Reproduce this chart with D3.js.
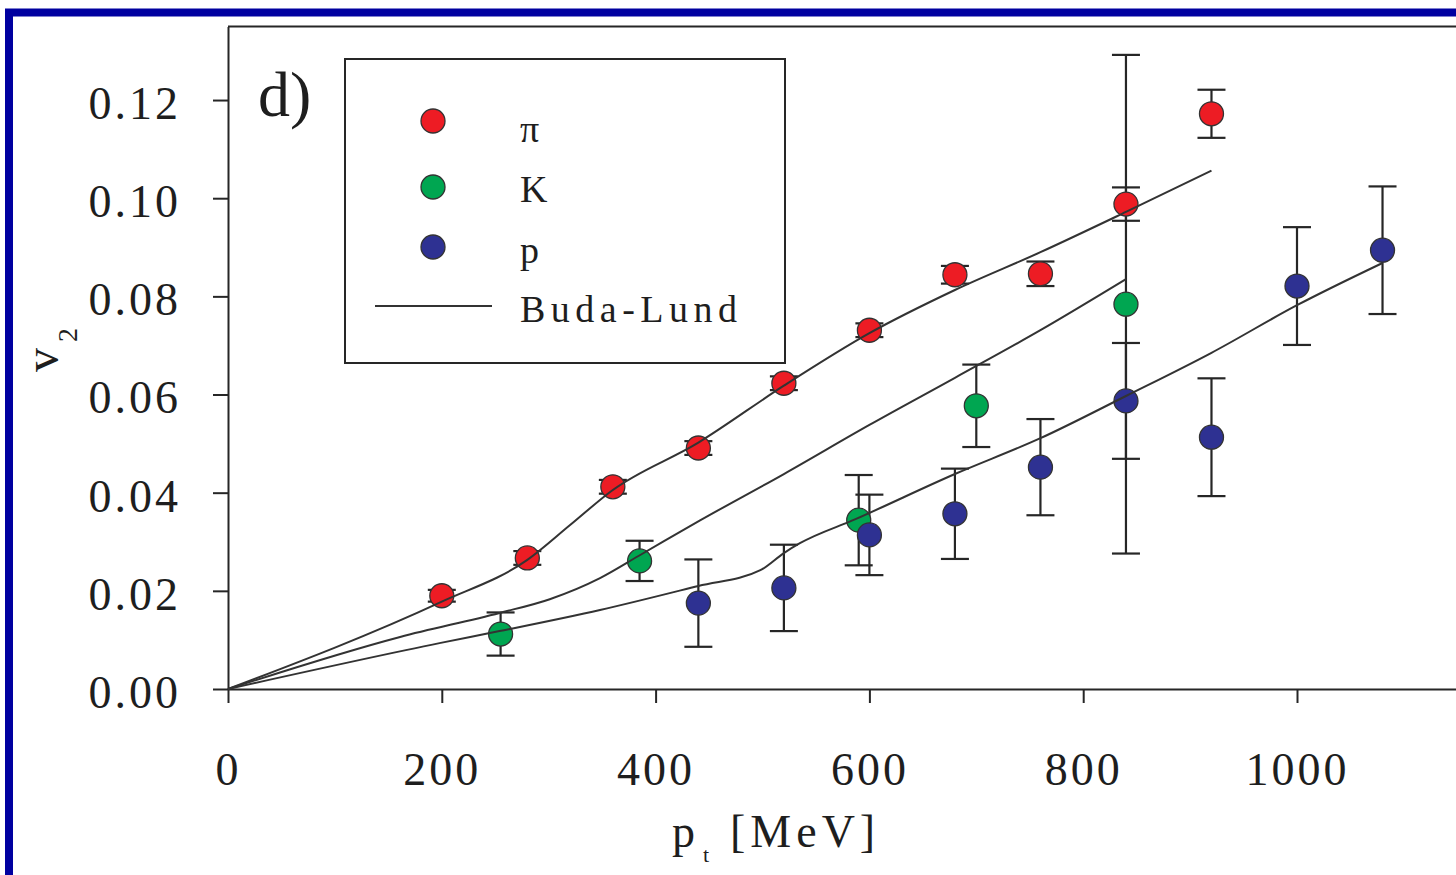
<!DOCTYPE html>
<html>
<head>
<meta charset="utf-8">
<script src="https://cdn.jsdelivr.net/npm/d3@7"></script>
<style>
  body { margin: 0; background: #fff; }
  svg { display: block; }
</style>
</head>
<body>
<div id="chart"></div>
<script>
// pions
const ptPion = [200, 280, 360, 440, 520, 600, 680, 760, 840, 920];
const v2Pion = [0.0190, 0.0267, 0.0412, 0.0491, 0.0623, 0.0731, 0.0844, 0.0846, 0.0988, 0.1172];
const errPion = [0.0012, 0.0014, 0.0014, 0.0014, 0.0014, 0.0014, 0.0018, 0.0025, 0.0034, 0.0049];

// kaons
const ptKaon = [255, 385, 590, 700, 840];
const v2Kaon = [0.0112, 0.0261, 0.0344, 0.0577, 0.0784];
const errKaon = [0.0044, 0.0041, 0.0092, 0.0084, 0.0508];

// protons
const ptProton = [440, 520, 600, 680, 760, 840, 920, 1000, 1080];
const v2Proton = [0.0175, 0.0206, 0.0314, 0.0357, 0.0452, 0.0587, 0.0513, 0.0821, 0.0894];
const errProton = [0.0089, 0.0088, 0.0082, 0.0092, 0.0098, 0.0118, 0.0120, 0.0120, 0.0130];

// Buda-Lund curves
const fitPionPt = [0, 199, 280, 320, 359, 440, 520, 600, 680, 760, 840, 920];
const fitPionV2 = [0, 0.0177, 0.0263, 0.0334, 0.0404, 0.0502, 0.0618, 0.0725, 0.0813, 0.0890, 0.0972, 0.1056];
const fitKaonPt = [0, 161, 254, 301, 348, 384, 442, 520, 600, 680, 760, 840];
const fitKaonV2 = [0, 0.0106, 0.0155, 0.0183, 0.0226, 0.0271, 0.0344, 0.0438, 0.0538, 0.0634, 0.0731, 0.0835];
const fitProtonPt = [0, 199, 254, 348, 440, 498, 520, 535, 587, 680, 760, 840, 920, 1000, 1080];
const fitProtonV2 = [0, 0.0094, 0.0118, 0.0161, 0.0210, 0.0242, 0.0277, 0.0297, 0.0346, 0.0438, 0.0511, 0.0597, 0.0685, 0.0782, 0.0868];

const xTicks = [0, 200, 400, 600, 800, 1000];
const yTicks = [0, 0.02, 0.04, 0.06, 0.08, 0.10, 0.12];
const legendLabels = ["π", "K", "p", "Buda-Lund"];
const colors = ["#ed1c24", "#00a651", "#2e3192"];

const W = 1456, H = 875;
const serif = "'Liberation Serif', 'DejaVu Serif', serif";
const ink = "#262626";

const svg = d3.select("#chart").append("svg")
    .attr("width", W)
    .attr("height", H);

// blue frame of the slide
svg.append("rect")
    .attr("x", 9).attr("y", 12.5)
    .attr("width", W + 40).attr("height", H + 40)
    .attr("fill", "none")
    .attr("stroke", "#0000a0")
    .attr("stroke-width", 8);

const x = d3.scaleLinear().domain([0, 1200]).range([228, 228 + 1200 * 1.069]);
const y = d3.scaleLinear().domain([0, 0.135]).range([689, 689 - 0.135 * 4908]);

// top frame line
svg.append("line")
    .attr("x1", x(0)).attr("x2", x(1200))
    .attr("y1", y(0.135)).attr("y2", y(0.135))
    .attr("stroke", ink).attr("stroke-width", 2);

const yAxis = d3.axisLeft(y)
    .tickValues(yTicks)
    .tickFormat(d3.format(".2f"))
    .tickSize(15)
    .tickSizeOuter(0)
    .tickPadding(32);

const gy = svg.append("g")
    .attr("transform", `translate(${x(0)},0)`)
    .call(yAxis);

const xAxis = d3.axisBottom(x)
    .tickValues(xTicks)
    .tickFormat(d3.format("d"))
    .tickSize(14)
    .tickSizeOuter(0)
    .tickPadding(49);

const gx = svg.append("g")
    .attr("transform", `translate(0,${y(0)})`)
    .call(xAxis);

[gx, gy].forEach(g => {
  g.select(".domain").attr("stroke", ink).attr("stroke-width", 2);
  g.selectAll(".tick line").attr("stroke", ink).attr("stroke-width", 2);
  g.selectAll(".tick text")
      .attr("font-family", serif)
      .attr("font-size", 46)
      .attr("letter-spacing", 3)
      .attr("fill", "#1e1e1e");
});
gy.selectAll(".tick text").attr("dy", "0.4em");

// axis titles
const xt = svg.append("text")
    .attr("x", 672).attr("y", 847)
    .attr("font-family", serif)
    .attr("font-size", 46)
    .attr("fill", "#1e1e1e");
xt.append("tspan").text("p");
xt.append("tspan").attr("x", 703).attr("y", 862).attr("font-size", 22).text("t");
xt.append("tspan").attr("x", 730).attr("y", 847).attr("letter-spacing", 5).text("[MeV]");

const yt = svg.append("text")
    .attr("transform", "translate(58,372) rotate(-90)")
    .attr("font-family", serif)
    .attr("font-size", 48)
    .attr("fill", "#1e1e1e");
yt.append("tspan").text("v");
yt.append("tspan").attr("dx", 6).attr("dy", 19).attr("font-size", 28).text("2");

// panel tag
svg.append("text")
    .attr("x", 258).attr("y", 116)
    .attr("font-family", serif)
    .attr("font-size", 64)
    .attr("fill", "#1e1e1e")
    .text("d)");

// data series
const series = [
  {pt: ptKaon, v2: v2Kaon, err: errKaon, color: colors[1]},
  {pt: ptPion, v2: v2Pion, err: errPion, color: colors[0]},
  {pt: ptProton, v2: v2Proton, err: errProton, color: colors[2]}
];

const capHalf = 14;
const gErr = svg.append("g").attr("stroke", ink).attr("stroke-width", 2.2);
series.forEach(s => {
  s.pt.forEach((p, i) => {
    const cx = x(p), lo = y(s.v2[i] - s.err[i]), hi = y(s.v2[i] + s.err[i]);
    gErr.append("line").attr("x1", cx).attr("x2", cx).attr("y1", lo).attr("y2", hi);
    gErr.append("line").attr("x1", cx - capHalf).attr("x2", cx + capHalf).attr("y1", lo).attr("y2", lo);
    gErr.append("line").attr("x1", cx - capHalf).attr("x2", cx + capHalf).attr("y1", hi).attr("y2", hi);
  });
});

series.forEach(s => {
  svg.append("g").selectAll("circle")
      .data(s.pt.map((p, i) => [p, s.v2[i]]))
      .join("circle")
      .attr("cx", d => x(d[0]))
      .attr("cy", d => y(d[1]))
      .attr("r", 12)
      .attr("fill", s.color)
      .attr("stroke", "#333")
      .attr("stroke-width", 1.3);
});

// Buda-Lund curves
const line = d3.line()
    .x(d => x(d[0]))
    .y(d => y(d[1]))
    .curve(d3.curveMonotoneX);

[[fitPionPt, fitPionV2], [fitKaonPt, fitKaonV2], [fitProtonPt, fitProtonV2]].forEach(([pts, vals]) => {
  svg.append("path")
      .datum(pts.map((p, i) => [p, vals[i]]))
      .attr("fill", "none")
      .attr("stroke", "#333")
      .attr("stroke-width", 2)
      .attr("d", line);
});

// legend
const lg = svg.append("g");
lg.append("rect")
    .attr("x", 345).attr("y", 59)
    .attr("width", 440).attr("height", 304)
    .attr("fill", "#fff")
    .attr("stroke", ink).attr("stroke-width", 2);

const markerY = [121, 187, 247];
const labelY = [142, 202, 263, 322];
colors.forEach((c, i) => {
  lg.append("circle")
      .attr("cx", 433).attr("cy", markerY[i]).attr("r", 12)
      .attr("fill", c).attr("stroke", "#333").attr("stroke-width", 1.3);
});
lg.append("line")
    .attr("x1", 375).attr("x2", 492)
    .attr("y1", 306).attr("y2", 306)
    .attr("stroke", "#333").attr("stroke-width", 2);

legendLabels.forEach((t, i) => {
  lg.append("text")
      .attr("x", 520).attr("y", labelY[i])
      .attr("font-family", serif)
      .attr("font-size", 38)
      .attr("letter-spacing", i === 3 ? 5.5 : 0)
      .attr("fill", "#1e1e1e")
      .text(t);
});
</script>
</body>
</html>
